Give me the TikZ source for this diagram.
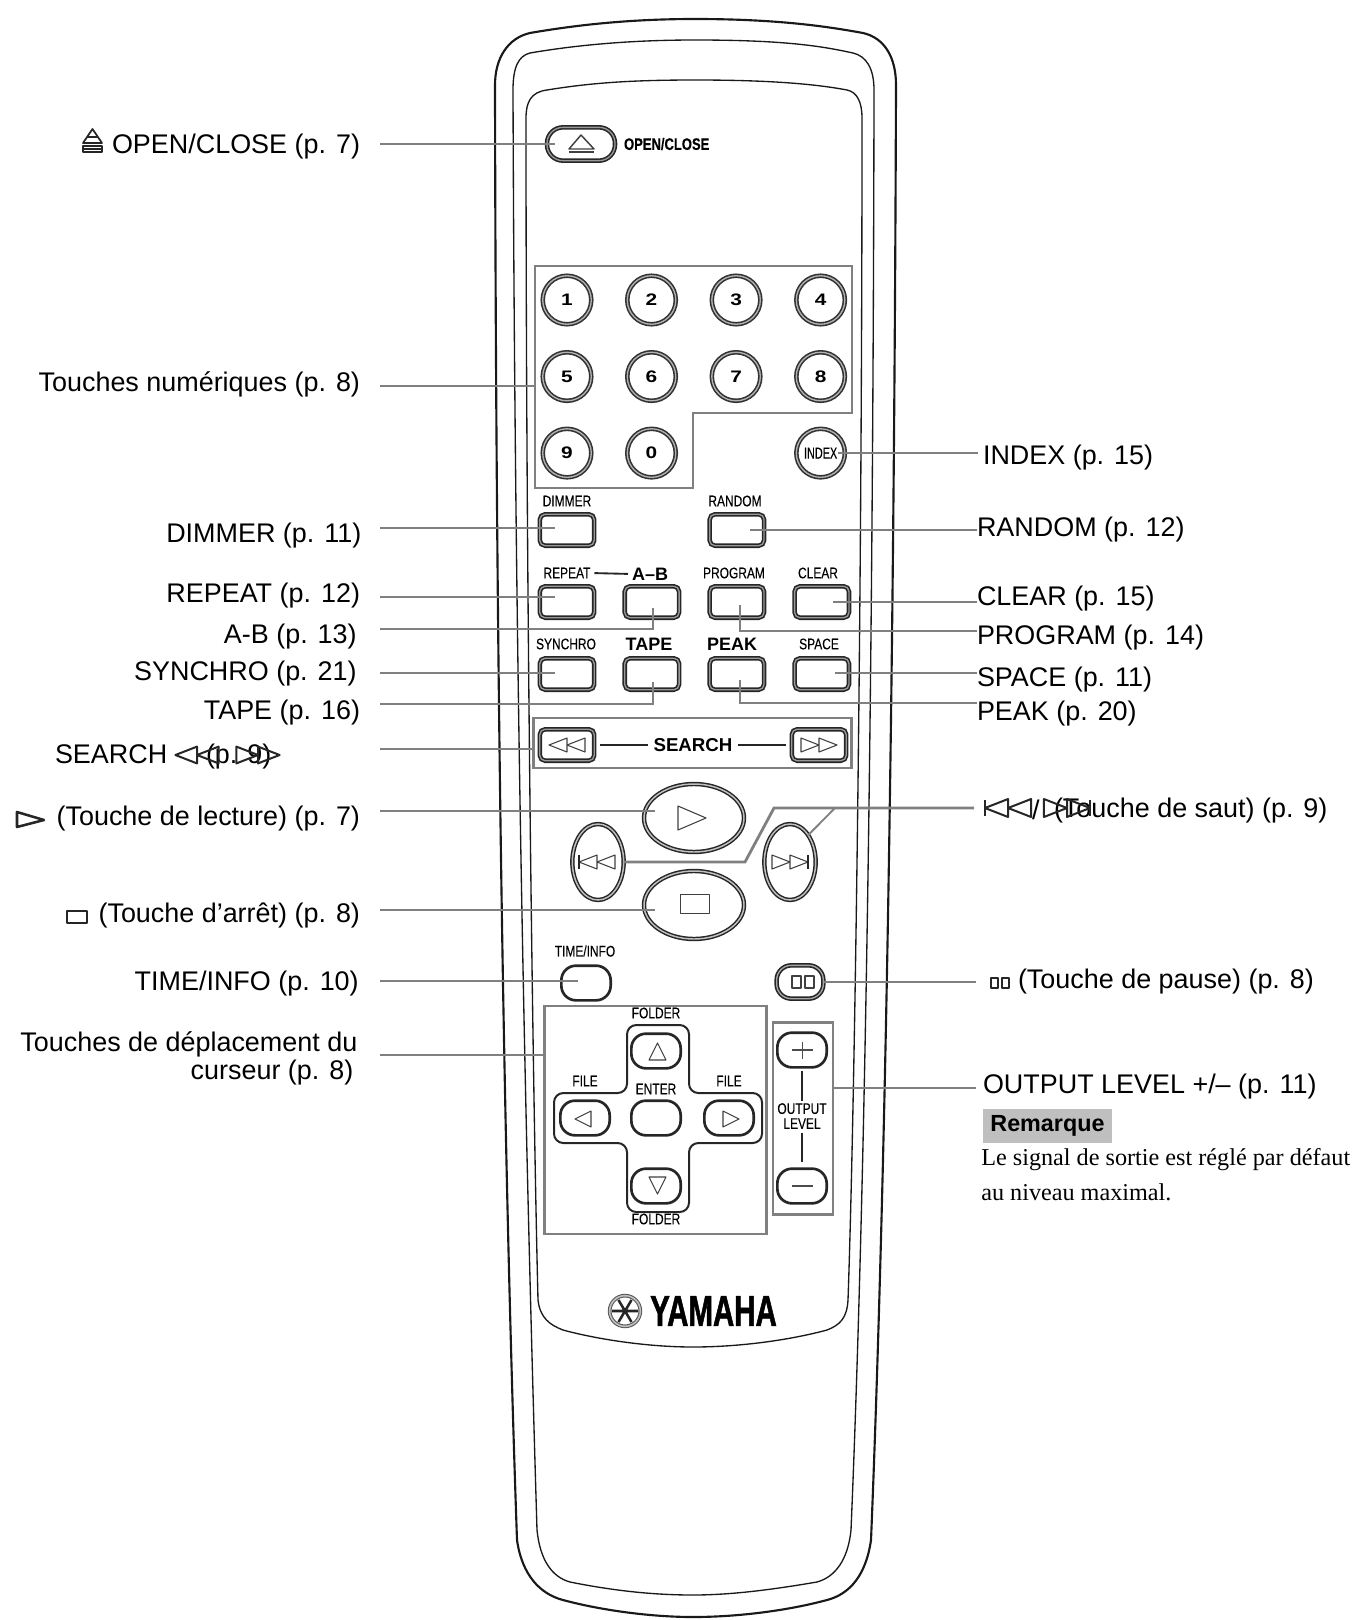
\documentclass[tikz,border=0pt]{standalone}
\usepackage{fontspec}
\setmainfont{Liberation Sans}
\newfontfamily\narrowfont[FakeStretch=0.78,FakeBold=0.25]{Liberation Sans}
\newfontfamily\squeezefont[FakeStretch=0.68,FakeBold=0.25]{Liberation Sans}
\newfontfamily\heavyfont[FakeStretch=0.68,FakeBold=1.2]{Liberation Sans}
\newfontfamily\widefont[FakeStretch=1.25]{Liberation Sans}
\newfontfamily\notefont{Liberation Serif}
\usetikzlibrary{shapes.geometric, calc, positioning}
\tikzstyle{body} = [draw=black!90, line join=round]
\tikzstyle{callout} = [draw=black!50, line width=2.1pt]
\tikzstyle{groupbox} = [rectangle, draw=black!50, line width=2.1pt, inner sep=0pt, outer sep=0pt]
\tikzstyle{leftlabel} = [anchor=east, yshift=-2.3pt, inner sep=0pt, outer xsep=15pt, outer ysep=0pt, align=right, font=\fontsize{20.2}{21.2}\selectfont]
\tikzstyle{rightlabel} = [anchor=west, yshift=-2.3pt, inner sep=0pt, outer sep=0pt, font=\fontsize{20.2}{21.2}\selectfont]
\tikzstyle{keylabel} = [inner sep=0pt, outer sep=0pt, font=\fontsize{11.5}{12}\narrowfont]
\tikzstyle{boldlabel} = [inner sep=0pt, outer sep=0pt, font=\fontsize{13.5}{14}\selectfont\bfseries]
\tikzstyle{digitkey} = [circle, draw=black!80, line width=1.2pt, double=black!30, double distance=1pt, fill=white, minimum size=36.4pt, inner sep=0pt, outer sep=0pt, font=\fontsize{12.5}{14}\widefont\bfseries]
\tikzstyle{sqkey} = [rectangle, rounded corners=4pt, draw=black!85, line width=1.2pt, double=black!40, double distance=1pt, minimum width=40.8pt, minimum height=23.6pt, inner sep=0pt, outer sep=0pt]
\tikzstyle{ovalkey} = [rectangle, rounded corners=11pt, draw=black!85, line width=2pt, minimum width=37pt, minimum height=26pt, inner sep=0pt, outer sep=0pt]
\tikzstyle{bigkey} = [ellipse, draw=black!85, line width=1.1pt, double=black!25, double distance=1.1pt, inner sep=0pt, outer sep=0pt]
\tikzstyle{icon} = [draw=black!75, line width=0.8pt, line join=round]
\tikzstyle{iconbold} = [draw=black!85, line width=1.5pt, line join=round]
\newcommand{\iconplay}[3][1]{\draw [#3, shift={(#2)}, scale=#1] (-14,-12) -- (14,0) -- (-14,12) -- cycle;}
\newcommand{\iconstop}[3][1]{\draw [#3, shift={(#2)}, scale=#1] (-14,-9) rectangle (14,9);}
\newcommand{\iconrew}[3][1]{\draw [#3, shift={(#2)}, scale=#1] (-18,0) -- (0,-7) -- (0,7) -- cycle (0,0) -- (18,-7) -- (18,7) -- cycle;}
\newcommand{\iconfwd}[3][1]{\draw [#3, shift={(#2)}, scale=#1] (18,0) -- (0,-7) -- (0,7) -- cycle (0,0) -- (-18,-7) -- (-18,7) -- cycle;}
\newcommand{\iconpause}[3][1]{\draw [#3, shift={(#2)}, scale=#1] (-11,-6) rectangle (-2,6) (2,-6) rectangle (11,6);}
\begin{document}
\begin{tikzpicture}[x=0.75pt, y=-0.75pt]
	\useasboundingbox (0,0) rectangle (1357,1620);

	% case
	\draw [body, line width=1.6pt] (695,19) .. controls (780,19) and (830,27) .. (863,33) .. controls (885,38) and (896,58) .. (896,85) .. controls (894,700) and (885,1200) .. (871,1540) .. controls (866,1575) and (850,1594) .. (827,1600) .. controls (790,1610) and (740,1617) .. (693,1617) .. controls (650,1617) and (600,1610) .. (563,1600) .. controls (540,1594) and (522,1575) .. (517,1540) .. controls (505,1200) and (496,700) .. (495,85) .. controls (495,58) and (508,38) .. (530,33) .. controls (565,27) and (620,19) .. (695,19) -- cycle;
	\draw [body, line width=1pt] (695,40) .. controls (790,40) and (825,47) .. (853,53) .. controls (866,56) and (874,68) .. (874,90) .. controls (873,700) and (865,1200) .. (851,1530) .. controls (848,1560) and (835,1577) .. (817,1582) .. controls (770,1590) and (730,1595) .. (693,1595) .. controls (650,1595) and (610,1590) .. (570,1582) .. controls (552,1577) and (540,1560) .. (537,1530) .. controls (527,1200) and (515,700) .. (513,90) .. controls (513,68) and (518,56) .. (530,53) .. controls (565,47) and (620,40) .. (695,40) -- cycle;
	\draw [body, line width=1pt] (695,80) .. controls (760,80) and (810,83) .. (847,90) .. controls (857,92) and (862,102) .. (862,118) .. controls (862,600) and (855,1100) .. (848,1300) .. controls (847,1318) and (840,1325) .. (827,1330) .. controls (790,1340) and (740,1347) .. (693,1347) .. controls (650,1347) and (600,1340) .. (563,1330) .. controls (550,1325) and (540,1318) .. (538,1300) .. controls (533,1100) and (526,600) .. (526,118) .. controls (526,102) and (531,92) .. (547,90) .. controls (590,83) and (630,80) .. (695,80) -- cycle;

	% open key
	\node (OpenKey) [rectangle, rounded corners=12pt, draw=black!85, line width=1.2pt, double=black!40, double distance=1pt, minimum width=51pt, minimum height=25pt, inner sep=0pt] at (581,144) {};
	\draw [icon, line width=1.1pt] (569,149) -- (581,135) -- (594,149) -- cycle;
	\draw [black!75, line width=1.8pt] (569,152) -- (594,152);
	\node (OpenText) [right = 6pt of OpenKey, inner sep=0pt, font=\fontsize{12.5}{13}\narrowfont\bfseries] {OPEN/CLOSE};

	% digits
	\draw [callout] (535,266) -- (852,266) -- (852,413) -- (693,413) -- (693,488) -- (535,488) -- cycle;
	\node (KeyOne) [digitkey] at (567,300) {1};
	\node (KeyTwo) [digitkey, right = 27pt of KeyOne] {2};
	\node (KeyThree) [digitkey, right = 27pt of KeyTwo] {3};
	\node (KeyFour) [digitkey, right = 27pt of KeyThree] {4};
	\node (KeyFive) [digitkey, below = 21pt of KeyOne] {5};
	\node (KeySix) [digitkey, right = 27pt of KeyFive] {6};
	\node (KeySeven) [digitkey, right = 27pt of KeySix] {7};
	\node (KeyEight) [digitkey, right = 27pt of KeySeven] {8};
	\node (KeyNine) [digitkey, below = 21pt of KeyFive] {9};
	\node (KeyZero) [digitkey, right = 27pt of KeyNine] {0};
	\node (IndexKey) [digitkey, below = 21pt of KeyEight, font=\fontsize{12}{13}\squeezefont] {INDEX};

	% rows of keys
	\node (DimmerKey) [sqkey] at (567,530) {};
	\node (RepeatKey) [sqkey, below = 30.4pt of DimmerKey] {};
	\node (AbKey) [sqkey, right = 22.9pt of RepeatKey] {};
	\node (ProgramKey) [sqkey, right = 22.9pt of AbKey] {};
	\node (ClearKey) [sqkey, right = 22.9pt of ProgramKey] {};
	\node (RandomKey) [sqkey, above = 30.4pt of ProgramKey] {};
	\node (SynchroKey) [sqkey, below = 30.4pt of RepeatKey] {};
	\node (TapeKey) [sqkey, right = 22.9pt of SynchroKey] {};
	\node (PeakKey) [sqkey, right = 22.9pt of TapeKey] {};
	\node (SpaceKey) [sqkey, right = 22.9pt of PeakKey] {};

	\node (DimmerText) [keylabel] at (567,501) {DIMMER};
	\node (RandomText) [keylabel] at (735,501) {RANDOM};
	\node (RepeatText) [keylabel] at (567,573) {REPEAT};
	\node (AbText) [boldlabel] at (650,574) {A--B};
	\node (ProgramText) [keylabel] at (734,573) {PROGRAM};
	\node (ClearText) [keylabel] at (818,573) {CLEAR};
	\node (SynchroText) [keylabel] at (566,644) {SYNCHRO};
	\node (TapeText) [boldlabel] at (649,644) {TAPE};
	\node (PeakText) [boldlabel] at (732,644) {PEAK};
	\node (SpaceText) [keylabel] at (819,644) {SPACE};
	\draw [black!85, line width=1.4pt, shorten <=3pt, shorten >=3pt] (RepeatText.east) -- (AbText.west);

	% search
	\node (SearchBox) [groupbox, minimum width=239pt, minimum height=37.5pt] at (692.5,743) {};
	\node (RewKey) [sqkey] at (567,745) {};
	\node (FwdKey) [sqkey] at (819,745) {};
	\node (SearchText) [boldlabel, font=\fontsize{14}{15}\selectfont\bfseries] at (693,745) {SEARCH};
	\draw [black!85, line width=1.4pt, shorten <=4pt, shorten >=4pt] (RewKey.east) -- (SearchText.west);
	\draw [black!85, line width=1.4pt, shorten <=4pt, shorten >=4pt] (SearchText.east) -- (FwdKey.west);
	\iconrew{567,745}{icon}
	\iconfwd{819,745}{icon}

	% transport
	\node (PlayKey) [bigkey, minimum width=75pt, minimum height=51pt] at (694,818) {};
	\node (StopKey) [bigkey, minimum width=75pt, minimum height=51pt] at (694,905) {};
	\node (SkipPrevKey) [bigkey, minimum width=38.5pt, minimum height=57pt] at (598,862) {};
	\node (SkipNextKey) [bigkey, minimum width=38.5pt, minimum height=57pt] at (790,862) {};
	\iconplay{692,818}{icon}
	\iconstop[1.03]{695,904}{icon}
	\iconrew{597,862}{icon}
	\draw [iconbold] (579,855) -- (579,869);
	\iconfwd{790,862}{icon}
	\draw [iconbold] (808,855) -- (808,869);

	% info keys
	\node (TimeKey) [ovalkey, minimum width=37pt, minimum height=26pt] at (586,983) {};
	\node (TimeText) [keylabel] at (585,951) {TIME/INFO};
	\node (PauseKey) [rectangle, rounded corners=11pt, draw=black!85, line width=1.2pt, double=black!35, double distance=1pt, minimum width=35pt, minimum height=25pt, inner sep=0pt] at (800,982) {};
	\iconpause{803,982}{icon}

	% cursor block
	\node (CursorBox) [groupbox, minimum width=167pt, minimum height=171pt] at (655.5,1120) {};
	\draw [black!85, line width=1.5pt, rounded corners=7pt] (627,1093) -- (627,1025) -- (689,1025) -- (689,1093) -- (762,1093) -- (762,1143) -- (689,1143) -- (689,1212) -- (627,1212) -- (627,1143) -- (554,1143) -- (554,1093) -- cycle;
	\node (UpKey) [ovalkey] at (656,1051) {};
	\node (EnterKey) [ovalkey] at (656,1118) {};
	\node (LeftKey) [ovalkey] at (585,1118) {};
	\node (RightKey) [ovalkey] at (729,1118) {};
	\node (DownKey) [ovalkey] at (656,1186) {};
	\draw [icon] (649,1060) -- (657.5,1043) -- (666,1060) -- cycle;
	\draw [icon] (649,1177) -- (657.5,1194) -- (666,1177) -- cycle;
	\draw [icon] (591,1111) -- (575,1119) -- (591,1127) -- cycle;
	\draw [icon] (723,1111) -- (739,1119) -- (723,1127) -- cycle;
	\node (FolderTop) [keylabel] at (656,1013) {FOLDER};
	\node (FolderBottom) [keylabel] at (656,1219) {FOLDER};
	\node (FileLeft) [keylabel] at (585,1081) {FILE};
	\node (FileRight) [keylabel] at (729,1081) {FILE};
	\node (EnterText) [keylabel] at (656,1089) {ENTER};

	% output block
	\node (OutputBox) [groupbox, minimum width=45pt, minimum height=144pt] at (803,1118.5) {};
	\node (PlusKey) [ovalkey] at (802,1050) {};
	\node (MinusKey) [ovalkey] at (802,1186) {};
	\draw [black!70, line width=1.4pt] (792,1050) -- (813,1050) (802.5,1042) -- (802.5,1059);
	\draw [black!70, line width=1.4pt] (792,1186) -- (813,1186);
	\node (OutputText) [keylabel, align=center, font=\fontsize{11.5}{11.2}\narrowfont] at (802,1116) {OUTPUT\\LEVEL};
	\draw [black!85, line width=1.4pt, shorten >=2pt, shorten <=3pt] (PlusKey.south) -- (OutputText.north);
	\draw [black!85, line width=1.4pt, shorten >=3pt, shorten <=5pt] (MinusKey.north) -- (OutputText.south);

	% logo
	\node (YamahaLogo) [circle, draw=black!65, line width=0.8pt, double=black!25, double distance=1.2pt, minimum size=23pt, inner sep=0pt] at (625,1311) {};
	\draw [black!85, line width=1.9pt] (612,1311) -- (638,1311) (618.5,1300) -- (631.5,1322) (631.5,1300) -- (618.5,1322);
	\node (YamahaText) [inner sep=0pt, font=\fontsize{32.5}{33}\heavyfont\bfseries] at (713.5,1311) {YAMAHA};

	% left labels
	\node (LabelOpen) [leftlabel] at (380,143) {OPEN/CLOSE (p. 7)};
	\node (LabelDigits) [leftlabel] at (380,381) {Touches numériques (p. 8)};
	\node (LabelDimmer) [leftlabel, outer xsep=14pt] at (380,532) {DIMMER (p. 11)};
	\node (LabelRepeat) [leftlabel] at (380,592) {REPEAT (p. 12)};
	\node (LabelAB) [leftlabel, outer xsep=17.5pt] at (380,633) {A-B (p. 13)};
	\node (LabelSynchro) [leftlabel, outer xsep=17.5pt] at (380,670) {SYNCHRO (p. 21)};
	\node (LabelTape) [leftlabel] at (380,709) {TAPE (p. 16)};
	\node (LabelSearch) [leftlabel, anchor=west, outer xsep=0pt] at (55,751) {SEARCH};
	\node (LabelSearchPage) [leftlabel, anchor=west, outer xsep=0pt] at (206,753) {(p. 9)};
	\coordinate (LabelSearchEnd) at (380,749);
	\node (LabelPlay) [leftlabel, outer xsep=15pt] at (380,815) {(Touche de lecture) (p. 7)};
	\node (LabelStop) [leftlabel, outer xsep=15pt] at (380,912) {(Touche d'arrêt) (p. 8)};
	\node (LabelTime) [leftlabel, outer xsep=16pt] at (380,980) {TIME/INFO (p. 10)};
	\node (LabelCursor) [leftlabel, outer xsep=17pt] at (380,1055) {Touches de déplacement du\\curseur (p. 8)\hspace*{3pt}};

	\draw [iconbold, line width=1.3pt] (83,143) -- (92.5,129) -- (102,143) -- cycle;
	\draw [iconbold, line width=1.3pt] (87,137) -- (98,137);
	\draw [iconbold, line width=1.3pt] (83,146) rectangle (102,152);
	\draw [iconbold, line width=1pt] (83,149) -- (102,149);
	\iconrew[1.2]{197,755}{iconbold}
	\iconfwd[1.2]{258,755}{iconbold}
	\draw [iconbold, line width=1.9pt] (17,812) -- (44,820) -- (17,827) -- cycle;
	\iconstop[0.72]{77,917}{iconbold}

	% right labels
	\node (LabelIndex) [rightlabel] at (983,454) {INDEX (p. 15)};
	\node (LabelRandom) [rightlabel] at (977,526) {RANDOM (p. 12)};
	\node (LabelClear) [rightlabel] at (977,595) {CLEAR (p. 15)};
	\node (LabelProgram) [rightlabel] at (977,634) {PROGRAM (p. 14)};
	\node (LabelSpace) [rightlabel] at (977,676) {SPACE (p. 11)};
	\node (LabelPeak) [rightlabel] at (977,710) {PEAK (p. 20)};
	\node (LabelSkip) [rightlabel] at (1054,807) {(Touche de saut) (p. 9)};
	\node (LabelPause) [rightlabel] at (1018,978) {(Touche de pause) (p. 8)};
	\node (LabelOutput) [rightlabel] at (983,1083) {OUTPUT LEVEL +/-- (p. 11)};
	\node (LabelNote) [anchor=west, fill=black!25, inner xsep=5pt, inner ysep=0pt, minimum width=96.7pt, minimum height=25pt, outer sep=0pt, font=\fontsize{17.5}{18}\selectfont\bfseries, align=left] at (983,1126) {Remarque};
	\node (NoteOne) [anchor=west, inner sep=0pt, font=\fontsize{18.15}{19}\notefont] at (981,1160) {Le signal de sortie est réglé par défaut};
	\node (NoteTwo) [anchor=west, inner sep=0pt, font=\fontsize{18.15}{19}\notefont] at (981,1192) {au niveau maximal.};

	\iconrew[1.28]{1008,808}{iconbold}
	\draw [iconbold] (985,800) -- (985,816);
	\node (SkipSlash) [rightlabel] at (1032,807) {/};
	\iconfwd[1.28]{1067,808}{iconbold}
	\draw [iconbold] (1090,800) -- (1090,816);
	\iconpause[0.85]{1000,983}{iconbold}

	% callouts, left
	\coordinate (OpenEnd) at (555,144);
	\coordinate (DigitsEnd) at (535,386);
	\coordinate (DimmerEnd) at (555,528);
	\coordinate (RepeatEnd) at (555,597);
	\coordinate (AbEnd) at (653,608);
	\coordinate (SynchroEnd) at (555,673);
	\coordinate (TapeEnd) at (653,682);
	\coordinate (SearchEnd) at (533,749);
	\coordinate (PlayEnd) at (655,811);
	\coordinate (StopEnd) at (655,910);
	\coordinate (TimeEnd) at (578,981);
	\coordinate (CursorEnd) at (544,1055);
	\draw [callout] (LabelOpen.east |- OpenEnd) -- (OpenEnd);
	\draw [callout] (LabelDigits.east |- DigitsEnd) -- (DigitsEnd);
	\draw [callout] (LabelDimmer.east |- DimmerEnd) -- (DimmerEnd);
	\draw [callout] (LabelRepeat.east |- RepeatEnd) -- (RepeatEnd);
	\draw [callout] (LabelAB.east |- 0,629) -| (AbEnd);
	\draw [callout] (LabelSynchro.east |- SynchroEnd) -- (SynchroEnd);
	\draw [callout] (LabelTape.east |- 0,704) -| (TapeEnd);
	\draw [callout] (LabelSearchEnd) -- (SearchEnd);
	\draw [callout] (LabelPlay.east |- PlayEnd) -- (PlayEnd);
	\draw [callout] (LabelStop.east |- StopEnd) -- (StopEnd);
	\draw [callout] (LabelTime.east |- TimeEnd) -- (TimeEnd);
	\draw [callout] (LabelCursor.east |- CursorEnd) -- (CursorEnd);

	% callouts, right
	\coordinate (IndexEnd) at (838,453);
	\coordinate (RandomEnd) at (750,530);
	\coordinate (ClearEnd) at (833,602);
	\coordinate (ProgramEnd) at (740,605);
	\coordinate (SpaceEnd) at (835,673);
	\coordinate (PeakEnd) at (740,680);
	\coordinate (SkipEnd) at (974,808);
	\coordinate (PauseEnd) at (976,982);
	\coordinate (OutputEnd) at (976,1088);
	\draw [callout] (IndexEnd) -- (978,453);
	\draw [callout] (RandomEnd) -- (LabelRandom.west |- RandomEnd);
	\draw [callout] (ClearEnd) -- (LabelClear.west |- ClearEnd);
	\draw [callout] (ProgramEnd) |- (LabelProgram.west |- 0,631);
	\draw [callout] (SpaceEnd) -- (LabelSpace.west |- SpaceEnd);
	\draw [callout] (PeakEnd) |- (LabelPeak.west |- 0,703);
	\draw [callout] (SkipPrevKey.east) -- (745,862) -- (774,808) -- (SkipEnd);
	\draw [callout, line width=1.4pt] (SkipNextKey.north east) -- (835,808);
	\draw [callout] (PauseKey.east) -- (PauseEnd);
	\draw [callout] (OutputBox.east |- OutputEnd) -- (OutputEnd);
\end{tikzpicture}
\end{document}
